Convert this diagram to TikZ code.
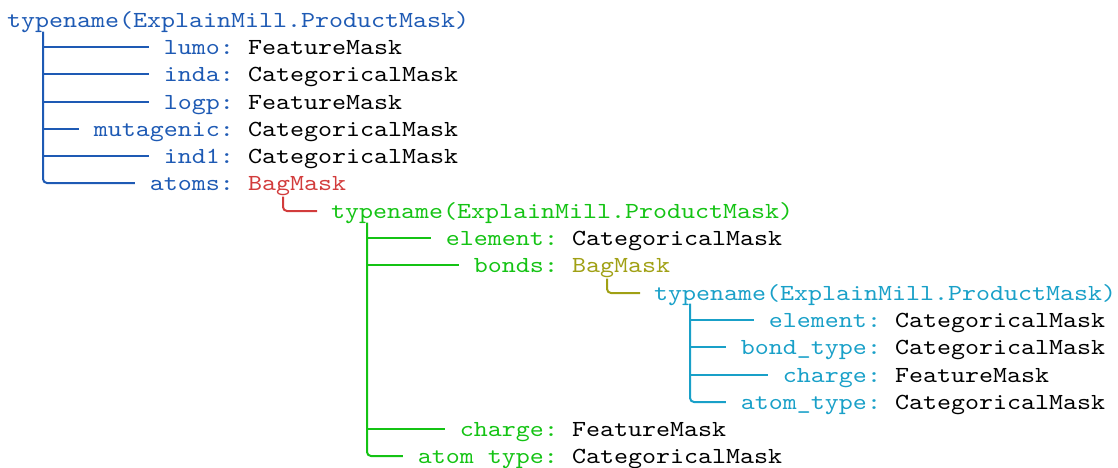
\documentclass[tikz,border=0pt]{standalone}
\usepackage{fontspec}
\setmonofont[FakeStretch=1.16]{lmmono10-regular.otf}
\usetikzlibrary{calc}
\definecolor{cblue}{RGB}{30,90,180}
\definecolor{cred}{RGB}{210,60,60}
\definecolor{cgreen}{RGB}{20,195,20}
\definecolor{colive}{RGB}{160,160,20}
\definecolor{ccyan}{RGB}{25,160,200}
\begin{document}
\begin{tikzpicture}[x=1pt,y=1pt,
  txt/.style={inner sep=0pt, outer sep=0pt, font=\ttfamily\fontsize{23}{28}\selectfont},
  key/.style={txt, anchor=base east},
  typ/.style={txt, anchor=base west},
  br/.style={line width=2pt, rounded corners=4pt}]
\useasboundingbox (0,0) rectangle (1118,-467);

% ---------- level 1 ----------
\node[typ, cblue] (root1) at (7,-27.5) {typename(ExplainMill.ProductMask)};
\node[key, cblue] (k-lumo) at (234,-54.5) {lumo:};
\node[typ] (t-lumo) at (248,-54.5) {FeatureMask};
\node[key, cblue] (k-inda) at (234,-81.5) {inda:};
\node[typ] (t-inda) at (248,-81.5) {CategoricalMask};
\node[key, cblue] (k-logp) at (234,-109.5) {logp:};
\node[typ] (t-logp) at (248,-109.5) {FeatureMask};
\node[key, cblue] (k-mutagenic) at (234,-136.5) {mutagenic:};
\node[typ] (t-mutagenic) at (248,-136.5) {CategoricalMask};
\node[key, cblue] (k-ind1) at (234,-163.5) {ind1:};
\node[typ] (t-ind1) at (248,-163.5) {CategoricalMask};
\node[key, cblue] (k-atoms) at (234,-190.5) {atoms:};
\node[typ, cred] (t-atoms) at (248,-190.5) {BagMask};

% ---------- level 2 ----------
\node[typ, cgreen] (root2) at (331,-218.5) {typename(ExplainMill.ProductMask)};
\node[key, cgreen] (k-element2) at (558,-245.5) {element:};
\node[typ] (t-element2) at (572,-245.5) {CategoricalMask};
\node[key, cgreen] (k-bonds) at (558,-272.5) {bonds:};
\node[typ, colive] (t-bonds) at (572,-272.5) {BagMask};
\node[key, cgreen] (k-charge2) at (558,-436.5) {charge:};
\node[typ] (t-charge2) at (572,-436.5) {FeatureMask};
\node[key, cgreen] (k-atomtype2) at (558,-463.5) {atom type:};
\node[typ] (t-atomtype2) at (572,-463.5) {CategoricalMask};

% ---------- level 3 ----------
\node[typ, ccyan] (root3) at (654,-300.5) {typename(ExplainMill.ProductMask)};
\node[key, ccyan] (k-element3) at (881,-327.5) {element:};
\node[typ] (t-element3) at (895,-327.5) {CategoricalMask};
\node[key, ccyan] (k-bondtype) at (881,-354.5) {bond\_type:};
\node[typ] (t-bondtype) at (895,-354.5) {CategoricalMask};
\node[key, ccyan] (k-charge3) at (881,-382.5) {charge:};
\node[typ] (t-charge3) at (895,-382.5) {FeatureMask};
\node[key, ccyan] (k-atomtype3) at (881,-409.5) {atom\_type:};
\node[typ] (t-atomtype3) at (895,-409.5) {CategoricalMask};

% branch ends, just left of each label
\foreach \k in {lumo,inda,logp,mutagenic,ind1,atoms,element2,bonds,charge2,atomtype2,element3,bondtype,charge3,atomtype3}
  \coordinate (e-\k) at ($(k-\k.base west)+(-15,7.5)$);
\foreach \r in {root2,root3}
  \coordinate (e-\r) at ($(\r.base west)+(-14,7.5)$);

% trunk tops
\coordinate (v1) at ($(root1.base west)+(36,-4)$);
\coordinate (v2) at ($(root2.base west)+(36,-4)$);
\coordinate (v3) at ($(root3.base west)+(36,-3)$);
\coordinate (b1) at ($(t-atoms.base west)+(35,-6)$);
\coordinate (b2) at ($(t-bonds.base west)+(35,-6)$);

% level 1 tree
\draw[br, cblue] (v1) |- (e-atoms);
\foreach \k in {lumo,inda,logp,mutagenic,ind1}
  \draw[br, cblue] (v1 |- e-\k) -- (e-\k);

% bag links
\draw[br, cred] (b1) |- (e-root2);
\draw[br, colive] (b2) |- (e-root3);

% level 2 tree
\draw[br, cgreen] (v2) |- (e-atomtype2);
\foreach \k in {element2,bonds,charge2}
  \draw[br, cgreen] (v2 |- e-\k) -- (e-\k);

% level 3 tree
\draw[br, ccyan] (v3) |- (e-atomtype3);
\foreach \k in {element3,bondtype,charge3}
  \draw[br, ccyan] (v3 |- e-\k) -- (e-\k);
\end{tikzpicture}
\end{document}
